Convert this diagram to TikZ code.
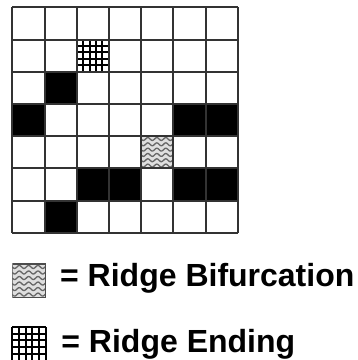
\documentclass[tikz,border=0pt]{standalone}
\usepackage{fontspec}
\setmainfont{Liberation Sans}
\usetikzlibrary{positioning}

% wavy cell for a bifurcation, grid cell for an ending
\newcommand{\ridgebif}[3]{%
  \begin{scope}[shift={(#1,#2)},scale=#3]
    \fill[gray!25] (0,0) rectangle (1,1);
    \clip (0,0) rectangle (1,1);
    \foreach \k in {0,...,5}
      \draw[black!60,line width=1.3pt,domain=0:1,samples=40,smooth]
        plot (\x,{0.09+0.165*\k+0.045*sin(\x*1290)});
    \draw[black!70,line width=1.8pt] (0,0) rectangle (1,1);
  \end{scope}}
\newcommand{\ridgeend}[3]{%
  \begin{scope}[shift={(#1,#2)},scale=#3]
    \fill[white] (0,0) rectangle (1,1);
    \foreach \k in {0,0.2,...,1.01}{
      \draw[black,line width=2pt] (\k,0) -- (\k,1);
      \draw[black,line width=2pt] (0,\k) -- (1,\k);}
  \end{scope}}

\begin{document}
\begin{tikzpicture}[x=32.2pt,y=-32.2pt,
  gridline/.style={draw=black!80,line width=2pt},
  keytext/.style={anchor=base west,inner sep=0pt,font=\bfseries\fontsize{32}{36}\selectfont}]
\useasboundingbox (-0.382,-0.227) rectangle (10.705,10.953);
% black cells
\foreach \c/\r in {1/2,0/3,5/3,6/3,2/5,3/5,5/5,6/5,1/6}
  \fill[black] (\c,\r) rectangle ++(1,1);
\ridgeend{2}{1}{1}
\ridgebif{4}{4}{1}
\foreach \i in {0,...,7}{
  \draw[gridline] (\i,0) -- (\i,7);
  \draw[gridline] (0,\i) -- (7,\i);}
% legend
\ridgebif{0}{7.97}{1.04}
\node[keytext] (bifkey) at (1.48,8.68) {= Ridge Bifurcation};
\ridgeend{0}{9.93}{1.04}
\node[keytext] (endkey) at (1.52,10.73) {= Ridge Ending};
\end{tikzpicture}
\end{document}
